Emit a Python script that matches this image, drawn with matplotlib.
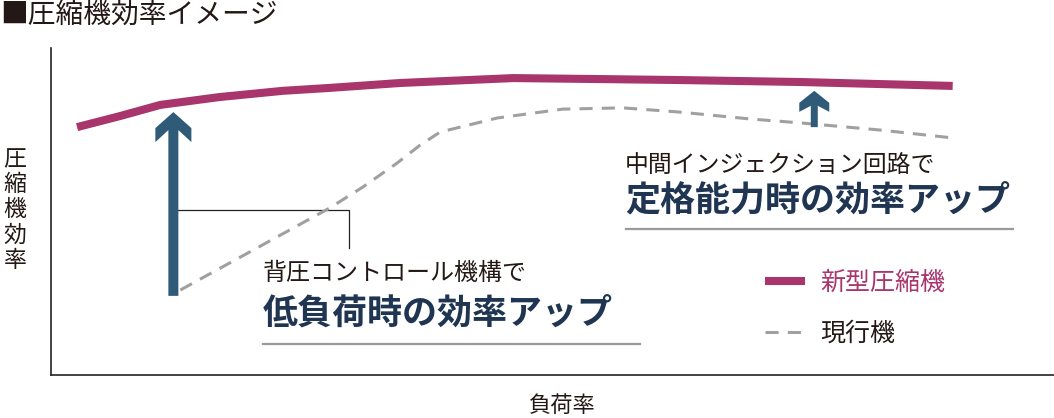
import matplotlib
matplotlib.use("Agg")
import matplotlib.pyplot as plt
from matplotlib.patches import Polygon
from matplotlib.lines import Line2D

plt.rcParams['font.family'] = ['Noto Sans CJK JP', 'DejaVu Sans']

# 新型圧縮機 (負荷率 %, 効率)
load_new = [2.6, 6.9, 10.9, 16.8, 23.1, 27.8, 34.8, 46.1, 54.7, 62.7, 74.7, 89.9]
eff_new = [75.8, 79.2, 82.6, 85.0, 86.9, 87.8, 89.3, 90.8, 90.5, 90.2, 89.6, 88.4]

# 現行機
load_old = [12.9, 19.8, 27.8, 31.1, 34.5, 36.8, 38.8, 44.5, 51.0, 57.0, 62.7, 69.7, 74.7, 82.7, 89.9]
eff_old = [26.0, 37.6, 51.1, 57.5, 64.8, 70.3, 74.3, 78.6, 81.3, 81.7, 80.4, 78.3, 77.1, 74.9, 72.5]

# 改善矢印 (x, 始点, 終点)
arrow_x = [12.2, 76.1]
arrow_y0 = [24.2, 75.8]
arrow_y1 = [80.4, 86.9]

MAGENTA = '#a8356c'
BLUE = '#2f5b79'
GRAY = '#a0a0a0'
NAVY = '#1f3552'
DARK = '#231815'

W, H = 1054, 418
fig = plt.figure(figsize=(W / 100, H / 100), dpi=100)


def fx(px):
    return px / W


def fy(py):
    return 1 - py / H


ax = fig.add_axes([fx(51), fy(375), fx(1054) - fx(51), fy(48) - fy(375)])
ax.set_xlim(0, 100)
ax.set_ylim(0, 100)
ax.set_xticks([])
ax.set_yticks([])
for s in ['top', 'right']:
    ax.spines[s].set_visible(False)
for s in ['left', 'bottom']:
    ax.spines[s].set_color('#222222')
    ax.spines[s].set_linewidth(1.2)

ax.plot(load_old, eff_old, color=GRAY, lw=2.2, dashes=(4.3, 3), label='現行機', zorder=2)
ax.plot(load_new, eff_new, color=MAGENTA, lw=5.8, solid_capstyle='butt', label='新型圧縮機', zorder=3)

# 矢印 (サイズはピクセル: 軸幅, 矢じり幅, 矢じり外側上端, 下端, 付け根)
px_x = 100 / 1003
px_y = 100 / 327
sizes = [(10, 36, 16, 30, 18), (7, 30, 12, 21, 15)]
for x, y0, y1, (w, hw, c1, c2, nt) in zip(arrow_x, arrow_y0, arrow_y1, sizes):
    w, hw = w / 2 * px_x, hw / 2 * px_x
    c1, c2, nt = c1 * px_y, c2 * px_y, nt * px_y
    pts = [(x - w, y0), (x - w, y1 - nt), (x - hw, y1 - c2), (x - hw, y1 - c1), (x, y1),
           (x + hw, y1 - c1), (x + hw, y1 - c2), (x + w, y1 - nt), (x + w, y0)]
    ax.add_patch(Polygon(pts, closed=True, color=BLUE, lw=0, zorder=4))

# 引き出し線
ax.plot([arrow_x[0], 29.7, 29.7], [50.5, 50.5, 38.8], color='#222222', lw=0.9, zorder=1)

# 凡例
handles, labels = ax.get_legend_handles_labels()
leg = ax.legend(handles[::-1], labels[::-1], loc='upper left',
                bbox_to_anchor=(fx(765), fy(270)), bbox_transform=fig.transFigure,
                frameon=False, fontsize=18, handlelength=1.6, handletextpad=0.6,
                labelspacing=1.0, borderpad=0, borderaxespad=0)
leg.get_texts()[0].set_color(MAGENTA)
leg.get_texts()[1].set_color(DARK)

# テキスト
fig.text(fx(0), fy(15), '■圧縮機効率イメージ', fontsize=20, color=DARK, va='center', ha='left')
fig.text(fx(15), fy(210), '圧\n縮\n機\n効\n率', fontsize=16.5, color=DARK, va='center', ha='center',
         linespacing=1.12)
fig.text(fx(562), fy(405), '負荷率', fontsize=16, color=DARK, va='center', ha='center')

fig.text(fx(263), fy(273), '背圧コントロール機構で', fontsize=17.3, color=DARK, va='center', ha='left')
fig.text(fx(263), fy(313), '低負荷時の効率アップ', fontsize=25.2, color=NAVY, fontweight='bold',
         va='center', ha='left')
fig.text(fx(625), fy(165), '中間インジェクション回路で', fontsize=17.2, color=DARK, va='center', ha='left')
fig.text(fx(625), fy(200), '定格能力時の効率アップ', fontsize=25.2, color=NAVY, fontweight='bold',
         va='center', ha='left')

fig.add_artist(Line2D([fx(263), fx(640)], [fy(344), fy(344)], color='#9a9a9a', lw=1.6))
fig.add_artist(Line2D([fx(626), fx(1013)], [fy(229), fy(229)], color='#9a9a9a', lw=1.6))

fig.savefig('out.png', dpi=100)
